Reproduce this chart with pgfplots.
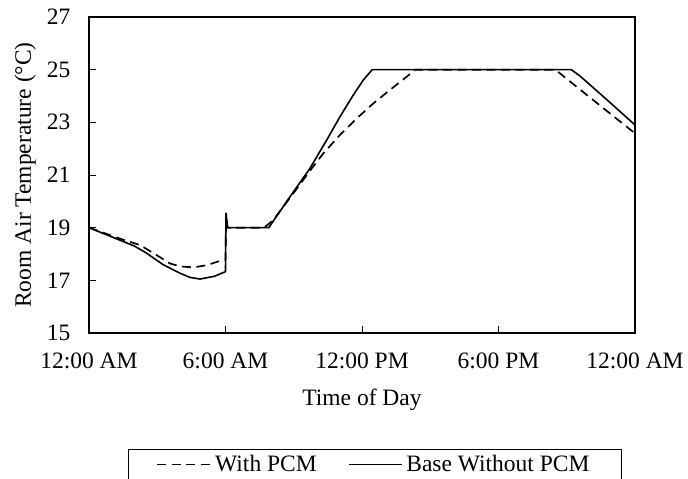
\documentclass[border=0pt]{standalone}
\usepackage{fontspec}
\setmainfont{Liberation Serif}
\usepackage{pgfplots}
\pgfplotsset{compat=1.18}
\begin{document}
\begin{tikzpicture}
\useasboundingbox (-89bp,-146bp) rectangle (599bp,333bp);
\begin{axis}[
  scale only axis, width=546bp, height=316bp,
  at={(0,0)}, anchor=south west,
  xmin=0, xmax=24, ymin=15, ymax=27,
  xtick={0,6,12,18,24},
  xticklabels={12:00 AM,6:00 AM,12:00 PM,6:00 PM,12:00 AM},
  ytick={15,17,...,27},
  tick align=inside, xtick pos=bottom, ytick pos=left,
  major tick length=7bp,
  axis line style={line width=1.2bp},
  every tick/.style={black, line width=1bp},
  font=\fontsize{23.5bp}{28bp}\selectfont,
  /pgf/number format/assume math mode=true,
  yticklabel style={xshift=-15bp},
  xticklabel style={anchor=base, yshift=-35bp},
  xlabel={Time of Day},
  ylabel={Room Air Temperature (°C)},
  xlabel style={at={(axis description cs:0.5,-0.228)}, anchor=base},
  ylabel style={at={(axis description cs:-0.117,0.5)}, anchor=center},
  legend columns=2,
  legend cell align=left,
  legend image code/.code={\draw[#1] (0bp,0bp) -- (53bp,0bp);},
  legend style={at={(0.5238,-0.367)}, anchor=north, draw=black, line width=1bp,
    inner xsep=28bp, inner ysep=3bp, nodes={inner xsep=4bp, inner ysep=3bp},
    /tikz/every even column/.append style={column sep=27bp}},
]
\addplot[black, line width=1.7bp, line join=round, dash pattern=on 9bp off 5.5bp] coordinates {
(0,19.0) (1.44,18.56) (2.24,18.34) (2.97,17.96) (3.56,17.64) (4.0,17.53) (4.6,17.49)
(5.2,17.58) (5.65,17.71) (6.0,17.77) (6.02,19.0) (7.7,19.0) (8.1,19.29) (8.98,20.30)
(9.79,21.25) (10.3,21.82) (11.03,22.52) (11.77,23.15) (12.5,23.72) (13.23,24.23)
(13.96,24.73) (14.35,25.0) (20.5,25.0) (22.2,23.82) (24,22.58)
};
\addlegendentry{With PCM}
\addplot[black, line width=1.6bp, line join=round] coordinates {
(0,19.0) (1,18.65) (2,18.3) (2.5,18.05) (3.25,17.6) (4.0,17.27) (4.44,17.11)
(4.88,17.05) (5.5,17.15) (6.0,17.33) (6.02,19.55) (6.1,19.0) (7.9,19.0) (8.84,20.18)
(9.71,21.25) (10.45,22.33) (11.03,23.21) (11.62,24.04) (12.06,24.61) (12.45,25.0)
(21.2,25.0) (21.58,24.76) (22.75,23.87) (24,22.9)
};
\addlegendentry{Base Without PCM}
\end{axis}
\end{tikzpicture}
\end{document}
